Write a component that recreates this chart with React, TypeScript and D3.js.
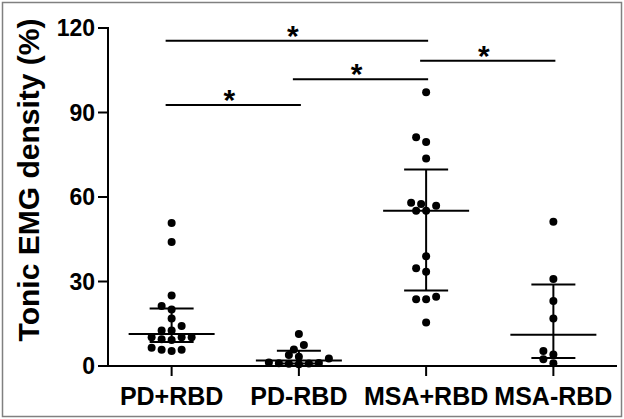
import React from 'react'
import * as d3 from 'd3'

// groups on the x axis
const groups = ['PD+RBD', 'PD-RBD', 'MSA+RBD', 'MSA-RBD']

// tonic EMG density (%) per subject
const pdPlusRbd = [50.8, 44.0, 25.0, 21.3, 20.1, 16.9, 14.2, 12.6, 12.6, 10.2, 10.2, 10.2, 9.5, 9.2, 6.5, 5.8, 5.8, 5.3]
const pdMinusRbd = [11.4, 7.5, 5.9, 3.9, 3.3, 2.7, 1.2, 1.1, 1.0, 0.9, 0.8, 0.6]
const msaPlusRbd = [97.2, 81.2, 79.5, 73.7, 58.0, 57.5, 56.9, 55.1, 55.1, 39.0, 34.7, 33.5, 24.6, 23.7, 23.7, 15.4]
const msaMinusRbd = [51.2, 30.9, 23.1, 16.9, 5.3, 4.1, 2.4, 1.0]

const yTicks = [0, 30, 60, 90, 120]

// significance brackets: from group, to group, height (in % units)
const sigFrom = ['PD+RBD', 'MSA+RBD', 'PD-RBD', 'PD+RBD']
const sigTo = ['MSA+RBD', 'MSA-RBD', 'MSA+RBD', 'PD-RBD']
const sigLevel = [115.5, 108.4, 101.8, 92.7]

const W = 624
const H = 419
const FONT = '"Liberation Sans", Arial, sans-serif'

// GraphPad style quartile, (n+1)p
function quart(sorted: number[], p: number) {
  const h = (sorted.length + 1) * p - 1
  const lo = Math.floor(h)
  const f = h - lo
  if (lo < 0) return sorted[0]
  if (lo >= sorted.length - 1) return sorted[sorted.length - 1]
  return sorted[lo] + f * (sorted[lo + 1] - sorted[lo])
}

// simple beeswarm, smallest values first, keeps points close to the centre
function swarm(values: number[], y: (v: number) => number, step: number, minDist: number) {
  const sorted = values.slice().sort((a, b) => a - b)
  const cands = [0]
  for (let k = 1; k <= 20; k++) cands.push((-k * step) / 2, (k * step) / 2)
  const placed: { v: number; y: number; dx: number }[] = []
  sorted.forEach((v) => {
    const py = y(v)
    const dx = cands.find((c) => placed.every((p) => Math.hypot(p.dx - c, p.y - py) >= minDist)) ?? 0
    placed.push({ v, y: py, dx })
  })
  return placed
}

export default function App() {
  const margin = { left: 108, right: 7, top: 28, bottom: 53 }
  const x = d3.scalePoint<string>().domain(groups).range([margin.left, W - margin.right]).padding(0.5)
  const y = d3.scaleLinear().domain([0, 120]).range([H - margin.bottom, margin.top])

  const series = [pdPlusRbd, pdMinusRbd, msaPlusRbd, msaMinusRbd]
  const axisY = y(0)

  return (
    <svg width={W} height={H} style={{ position: 'absolute', left: 0, top: 0, background: '#fff' }} fontFamily={FONT}>
      <rect x={2.5} y={2.5} width={W - 5} height={H - 5} fill="#fff" stroke="#808080" strokeWidth={1.5} />

      {/* y axis */}
      <line x1={margin.left} x2={margin.left} y1={y(120) - 1} y2={axisY + 1} stroke="#000" strokeWidth={2} />
      {yTicks.map((t) => (
        <g key={t}>
          <line x1={margin.left - 10} x2={margin.left} y1={y(t)} y2={y(t)} stroke="#000" strokeWidth={2} />
          <text x={margin.left - 13} y={y(t)} dy="0.36em" textAnchor="end" fontSize={23} fontWeight="bold">
            {t}
          </text>
        </g>
      ))}
      <text transform="translate(39,180) rotate(-90)" textAnchor="middle" fontSize={30} fontWeight="bold">
        Tonic EMG density (%)
      </text>

      {/* x axis */}
      <line x1={margin.left - 1} x2={W - margin.right} y1={axisY} y2={axisY} stroke="#000" strokeWidth={2} />
      {groups.map((g) => (
        <g key={g}>
          <line x1={x(g)} x2={x(g)} y1={axisY} y2={axisY + 10} stroke="#000" strokeWidth={2} />
          <text x={x(g)} y={axisY + 39} textAnchor="middle" fontSize={25} fontWeight="bold">
            {g}
          </text>
        </g>
      ))}

      {/* points, median and interquartile range */}
      {series.map((vals, i) => {
        const cx = x(groups[i]) as number
        const sorted = vals.slice().sort((a, b) => a - b)
        const med = d3.median(sorted) as number
        const q1 = quart(sorted, 0.25)
        const q3 = quart(sorted, 0.75)
        const pts = swarm(vals, y, 10, 7.5)
        return (
          <g key={groups[i]}>
            {pts.map((p, j) => (
              <circle key={j} cx={cx + p.dx} cy={p.y} r={4} fill="#000" />
            ))}
            <line x1={cx} x2={cx} y1={y(q1)} y2={y(q3)} stroke="#000" strokeWidth={2} />
            <line x1={cx - 43} x2={cx + 43} y1={y(med)} y2={y(med)} stroke="#000" strokeWidth={2} />
            <line x1={cx - 22} x2={cx + 22} y1={y(q1)} y2={y(q1)} stroke="#000" strokeWidth={2} />
            <line x1={cx - 22} x2={cx + 22} y1={y(q3)} y2={y(q3)} stroke="#000" strokeWidth={2} />
          </g>
        )
      })}

      {/* significance */}
      {sigLevel.map((lv, i) => {
        const x1 = (x(sigFrom[i]) as number) - 6
        const x2 = (x(sigTo[i]) as number) + 2
        return (
          <g key={i}>
            <line x1={x1} x2={x2} y1={y(lv)} y2={y(lv)} stroke="#000" strokeWidth={2} />
            <text x={(x1 + x2) / 2 - 4} y={y(lv) + 5} textAnchor="middle" fontSize={30} fontWeight="bold">
              *
            </text>
          </g>
        )
      })}
    </svg>
  )
}
